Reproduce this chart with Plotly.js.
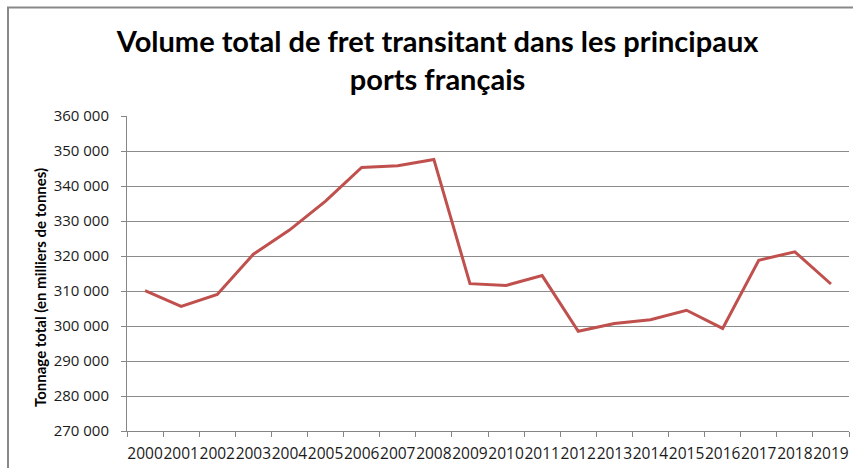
<!DOCTYPE html>
<html>
<head>
<meta charset="utf-8">
<script src="https://cdn.plot.ly/plotly-3.0.1.min.js"></script>
<style>html,body{margin:0;padding:0;background:#fff;}#chart{width:853px;height:468px;}</style>
</head>
<body>
<div id="chart"></div>
<script>
const years = ["2000","2001","2002","2003","2004","2005","2006","2007","2008","2009","2010","2011","2012","2013","2014","2015","2016","2017","2018","2019"];
const tonnage = [310100, 305600, 309000, 320500, 327400, 335700, 345300, 345800, 347600, 312100, 311600, 314400, 298500, 300700, 301800, 304500, 299300, 318800, 321200, 312000];
const yTicks = [270000, 280000, 290000, 300000, 310000, 320000, 330000, 340000, 350000, 360000];
const yTitle = "Tonnage total (en milliers de tonnes)";
const chartTitle = "Volume total de fret transitant dans les principaux<br>ports français";

const L = 127, R = 849, T = 116, B = 431, W = 853, H = 468;
const px = x => (x - L) / (R - L);
const py = y => (B - y) / (B - T);

const trace = {
  x: years, y: tonnage, type: "scatter", mode: "lines",
  line: {color: "#C0504D", width: 3},
  hoverinfo: "x+y"
};

const layout = {
  width: W, height: H,
  margin: {l: L, r: W - R, t: T, b: H - B, pad: 0},
  paper_bgcolor: "#fff", plot_bgcolor: "#fff",
  separators: ", ",
  showlegend: false,
  title: {
    text: chartTitle,
    font: {family: "Lato, 'Open Sans', sans-serif", size: 29, color: "#000", weight: "bold"},
    x: 0.513, xanchor: "center", y: 0.888, yanchor: "top"
  },
  xaxis: {
    type: "category",
    range: [-0.5, years.length - 0.5],
    tickson: "boundaries",
    tickangle: 0,
    ticks: "outside", ticklen: 5, tickcolor: "#868686", tickwidth: 1,
    showline: true, linecolor: "#868686", linewidth: 1,
    showgrid: false,
    tickfont: {family: "Open Sans", size: 15.5, color: "#1a1a1a"},
    ticklabelstandoff: 8,
    fixedrange: true
  },
  yaxis: {
    range: [270000, 360000],
    tickvals: yTicks,
    tickformat: ",.0f",
    ticks: "outside", ticklen: 5, tickcolor: "#868686", tickwidth: 1,
    showline: true, linecolor: "#868686", linewidth: 1,
    showgrid: true, gridcolor: "#8c8c8c", gridwidth: 1,
    zeroline: false,
    tickfont: {family: "Open Sans", size: 15, color: "#1a1a1a"},
    ticklabelstandoff: 9,
    fixedrange: true
  },
  annotations: [{
    text: yTitle, textangle: -90,
    xref: "paper", yref: "paper", x: px(40), y: py(288),
    xanchor: "center", yanchor: "middle", showarrow: false,
    font: {family: "Lato, 'Open Sans', sans-serif", size: 15, color: "#000", weight: "bold"}
  }],
  shapes: [{
    type: "rect", xref: "paper", yref: "paper",
    x0: px(8), x1: px(880), y0: py(490), y1: py(7.5),
    line: {color: "#898989", width: 2}, fillcolor: "rgba(0,0,0,0)", layer: "below"
  }]
};

Plotly.newPlot("chart", [trace], layout, {displayModeBar: false, staticPlot: true});
</script>
</body>
</html>
